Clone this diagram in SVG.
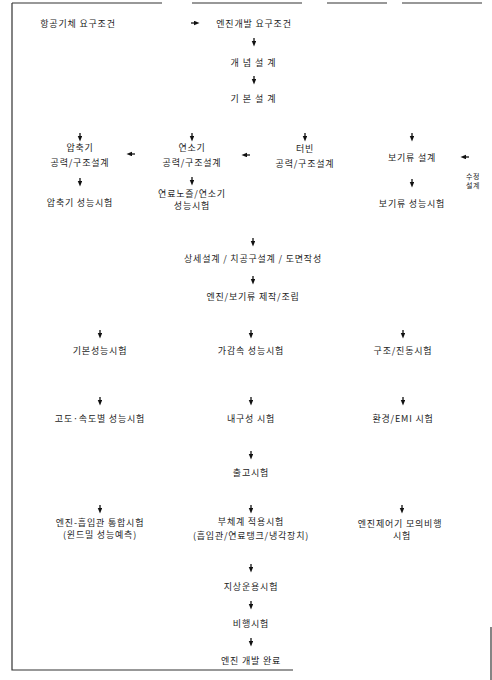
<svg xmlns="http://www.w3.org/2000/svg" width="492" height="680" viewBox="0 0 492 680">
<defs>
<marker id="ah" markerUnits="userSpaceOnUse" markerWidth="6" markerHeight="5" refX="0" refY="2.25" orient="auto">
<path d="M0,0 L5.5,2.25 L0,4.5 z" fill="#111"/>
</marker>
<style>
text{font-family:"Noto Sans CJK KR","Noto Sans",sans-serif;font-size:9px;fill:#1c1c1c;text-anchor:middle;letter-spacing:0.8px}
.sp{letter-spacing:4px}
.sm{font-size:7px;letter-spacing:0.5px}
.c{stroke:#111;stroke-width:1.3;fill:none;marker-end:url(#ah)}
.frame{stroke:#333;stroke-width:1.2;fill:none}
</style>
</defs>
<rect width="492" height="680" fill="#fff"/>
<g id="frame">
<path class="frame" d="M12,3 V670 H293"/>
<path class="frame" d="M12,3 H490" stroke-dasharray="150,30,110,25,60,15,80"/>
<path class="frame" d="M491,627 V680"/>
</g>
<g id="connectors">
<line class="c" x1="191" y1="23" x2="194" y2="23"/>
<line class="c" x1="254" y1="38" x2="254" y2="41"/>
<line class="c" x1="254" y1="76" x2="254" y2="79"/>
<line class="c" x1="80" y1="133" x2="80" y2="136"/>
<line class="c" x1="192" y1="133" x2="192" y2="136"/>
<line class="c" x1="305" y1="133" x2="305" y2="136"/>
<line class="c" x1="412" y1="133" x2="412" y2="136"/>
<line class="c" x1="135" y1="154" x2="132" y2="154"/>
<line class="c" x1="250" y1="155" x2="247" y2="155"/>
<line class="c" x1="469" y1="157" x2="466" y2="157"/>
<line class="c" x1="80" y1="178" x2="80" y2="181"/>
<line class="c" x1="192" y1="177" x2="192" y2="180"/>
<line class="c" x1="412" y1="179" x2="412" y2="182"/>
<line class="c" x1="253" y1="238" x2="253" y2="241"/>
<line class="c" x1="253" y1="276" x2="253" y2="279"/>
<line class="c" x1="100" y1="330" x2="100" y2="333"/>
<line class="c" x1="251" y1="330" x2="251" y2="333"/>
<line class="c" x1="403" y1="330" x2="403" y2="333"/>
<line class="c" x1="100" y1="397" x2="100" y2="400"/>
<line class="c" x1="251" y1="397" x2="251" y2="400"/>
<line class="c" x1="403" y1="397" x2="403" y2="400"/>
<line class="c" x1="251" y1="451" x2="251" y2="454"/>
<line class="c" x1="100" y1="505" x2="100" y2="508"/>
<line class="c" x1="251" y1="505" x2="251" y2="508"/>
<line class="c" x1="402" y1="505" x2="402" y2="508"/>
<line class="c" x1="251" y1="564" x2="251" y2="567"/>
<line class="c" x1="251" y1="601" x2="251" y2="604"/>
<line class="c" x1="251" y1="638" x2="251" y2="641"/>
</g>
<g id="n1"><text x="78" y="26.5">항공기체 요구조건</text></g>
<g id="n2"><text x="254" y="26.5">엔진개발 요구조건</text></g>
<g id="n3"><text class="sp" x="255" y="65.5">개념설계</text></g>
<g id="n4"><text class="sp" x="255" y="101.5">기본설계</text></g>
<g id="n5"><text x="80" y="150.5">압축기</text><text x="80" y="165.5">공력/구조설계</text></g>
<g id="n6"><text x="192" y="150.5">연소기</text><text x="192" y="165.5">공력/구조설계</text></g>
<g id="n7"><text x="305" y="151.5">터빈</text><text x="305" y="166.5">공력/구조설계</text></g>
<g id="n8"><text x="412" y="160.5">보기류 설계</text></g>
<g id="n9"><text class="sm" x="473" y="178.5">수정</text><text class="sm" x="473" y="187.5">설계</text></g>
<g id="n10"><text x="80" y="205.5">압축기 성능시험</text></g>
<g id="n11"><text x="192" y="196.5">연료노즐/연소기</text><text x="192" y="209">성능시험</text></g>
<g id="n12"><text x="412" y="206.5">보기류 성능시험</text></g>
<g id="n13"><text x="253" y="261.5">상세설계 / 치공구설계 / 도면작성</text></g>
<g id="n14"><text x="253" y="299.5">엔진/보기류 제작/조립</text></g>
<g id="n15"><text x="100" y="353.5">기본성능시험</text></g>
<g id="n16"><text x="251" y="353.5">가감속 성능시험</text></g>
<g id="n17"><text x="403" y="353.5">구조/진동시험</text></g>
<g id="n18"><text x="100" y="421.5">고도·속도별 성능시험</text></g>
<g id="n19"><text x="251" y="421.5">내구성 시험</text></g>
<g id="n20"><text x="403" y="421.5">환경/EMI 시험</text></g>
<g id="n21"><text x="251" y="475.5">출고시험</text></g>
<g id="n22"><text x="100" y="525.5">엔진-흡입관 통합시험</text><text x="100" y="538">(윈드밀 성능예측)</text></g>
<g id="n23"><text x="251" y="524.5">부체계 적용시험</text><text x="251" y="538.5">(흡입관/연료탱크/냉각장치)</text></g>
<g id="n24"><text x="400" y="526.5">엔진제어기 모의비행</text><text x="402" y="539">시험</text></g>
<g id="n25"><text x="251" y="589.5">지상운용시험</text></g>
<g id="n26"><text x="251" y="626.5">비행시험</text></g>
<g id="n27"><text x="251" y="663.5">엔진 개발 완료</text></g>
</svg>
